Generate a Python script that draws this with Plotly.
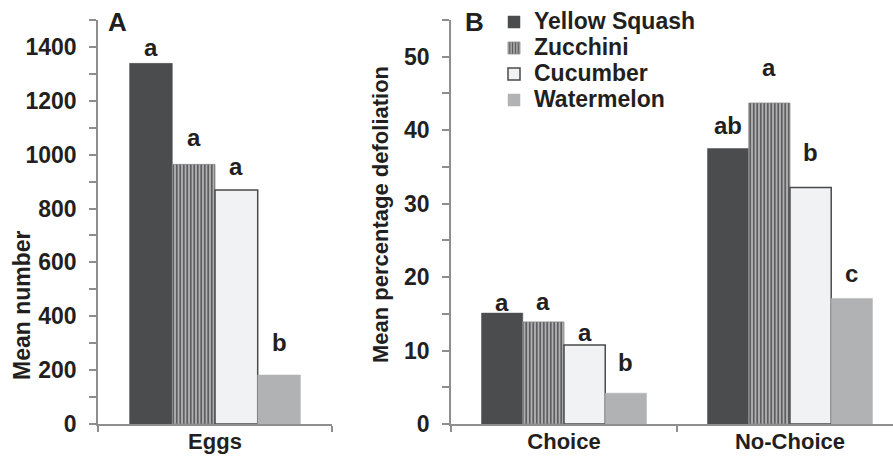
import plotly.graph_objects as go

# ---- data ----
series = ["Yellow Squash", "Zucchini", "Cucumber", "Watermelon"]
cats_a = ["Eggs"]
cats_b = ["Choice", "No-Choice"]
eggs = [1339, 964, 869, 182]              # panel A, one value per series
defol_choice = [15.1, 13.9, 10.75, 4.2]   # panel B, Choice
defol_nochoice = [37.5, 43.7, 32.2, 17.1] # panel B, No-Choice
letters_a = ["a", "a", "a", "b"]
letters_choice = ["a", "a", "a", "b"]
letters_nochoice = ["ab", "a", "b", "c"]
yticks_a = [0, 200, 400, 600, 800, 1000, 1200, 1400]
yticks_b = [0, 10, 20, 30, 40, 50]

# ---- styles ----
W, H = 893, 456
FONT = "Liberation Sans, Arial, sans-serif"
TXT = "#231f20"
AXC = "#8e8e8e"
fills = ["#4b4c4e", "#a6a6a8", "#f1f2f4", "#b1b2b4"]
lines = ["#4b4c4e", "#8a8a8a", "#4a4a4a", "#b1b2b4"]
linew = [0.5, 0.8, 1.5, 0.5]
pattern = [None, dict(shape="|", fgcolor="#555557", bgcolor="#b0b0b2", size=3.5, solidity=0.45, fillmode="replace"), None, None]
BARGAP = 0.27
FS = 23
# pixel offsets of significance letters above bar tops
off_a = [16, 27, 23, 32]
off_choice = [11, 20, 13, 31]
off_nochoice = [23, 36, 35, 25]

fig = go.Figure()
for i, s in enumerate(series):
    mk = dict(color=fills[i], line=dict(color=lines[i], width=linew[i]))
    if pattern[i]:
        mk["pattern"] = pattern[i]
    fig.add_trace(go.Bar(x=cats_a, y=[eggs[i]], name=s, marker=mk, showlegend=False,
                         xaxis="x", yaxis="y"))
for i, s in enumerate(series):
    mk = dict(color=fills[i], line=dict(color=lines[i], width=linew[i]))
    if pattern[i]:
        mk["pattern"] = pattern[i]
    fig.add_trace(go.Bar(x=cats_b, y=[defol_choice[i], defol_nochoice[i]],
                         name=f"<span style='font-size:{FS}px'>{s}</span>", marker=mk,
                         showlegend=True, xaxis="x2", yaxis="y2"))

bw = (1 - BARGAP) / len(series)
ann = []
def letter(xref, yref, xc, y, t, off):
    ann.append(dict(x=xc, y=y, xref=xref, yref=yref, text=t, showarrow=False, xanchor="center",
                    yshift=off, yanchor="middle", font=dict(size=FS + 1, color=TXT)))
for i in range(4):
    dx = (i - 1.5) * bw
    letter("x", "y", 0 + dx, eggs[i], letters_a[i], off_a[i])
    letter("x2", "y2", 0 + dx, defol_choice[i], letters_choice[i], off_choice[i])
    letter("x2", "y2", 1 + dx, defol_nochoice[i], letters_nochoice[i], off_nochoice[i])

def paper_text(px, py, t, size, angle=0):
    ann.append(dict(x=px / W, y=1 - py / H, xref="paper", yref="paper", text=t, showarrow=False,
                    xanchor="center", yanchor="middle", textangle=angle,
                    font=dict(size=size, color=TXT)))
paper_text(118, 22, "A", 26)
paper_text(474, 22, "B", 26)
paper_text(22, 305, "Mean number", FS, -90)
paper_text(380, 215, "Mean percentage defoliation", 22, -90)

ydom = [(H - 424) / H, (H - 20) / H]
common_y = dict(showline=True, linecolor=AXC, linewidth=1.5, ticks="outside", ticklen=7, tickwidth=1.5,
                tickcolor=AXC, showgrid=False, zeroline=False, tickfont=dict(size=FS, color=TXT),
                ticklabelstandoff=8, automargin=False)
common_x = dict(type="category", showline=True, linecolor=AXC, linewidth=1.5, ticks="outside", ticklen=6,
                tickwidth=1.5, tickcolor=AXC, tickson="boundaries", showgrid=False, zeroline=False,
                tickfont=dict(size=22, color=TXT), ticklabelstandoff=-3, automargin=False)

fig.update_layout(
    width=W, height=H, margin=dict(l=0, r=0, t=0, b=0, autoexpand=False),
    paper_bgcolor="white", plot_bgcolor="white",
    font=dict(family=FONT, weight="bold", color=TXT),
    barmode="group", bargap=BARGAP, bargroupgap=0,
    xaxis=dict(domain=[98 / W, 332 / W], range=[-0.5, 0.5], categoryarray=cats_a, **common_x),
    yaxis=dict(domain=ydom, range=[0, 1500], tickvals=yticks_a,
               minor=dict(dtick=100, tick0=0, ticks="outside", ticklen=7, tickcolor=AXC, tickwidth=1.5),
               **common_y),
    xaxis2=dict(domain=[451 / W, 1.0], range=[-0.5, 1.456], anchor="y2", categoryarray=cats_b, **common_x),
    yaxis2=dict(domain=ydom, range=[0, 55], tickvals=yticks_b, anchor="x2",
                minor=dict(dtick=5, tick0=0, ticks="outside", ticklen=7, tickcolor=AXC, tickwidth=1.5),
                **common_y),
    legend=dict(x=494 / W, y=1 - 4 / H, xanchor="left", yanchor="top", bgcolor="rgba(0,0,0,0)",
                font=dict(size=17.7, color=TXT), tracegroupgap=0, itemwidth=30),
    annotations=ann,
)

fig.write_html("out.html", config={"displayModeBar": False},
               post_script="document.body.style.margin='0';document.body.style.overflow='hidden';")
